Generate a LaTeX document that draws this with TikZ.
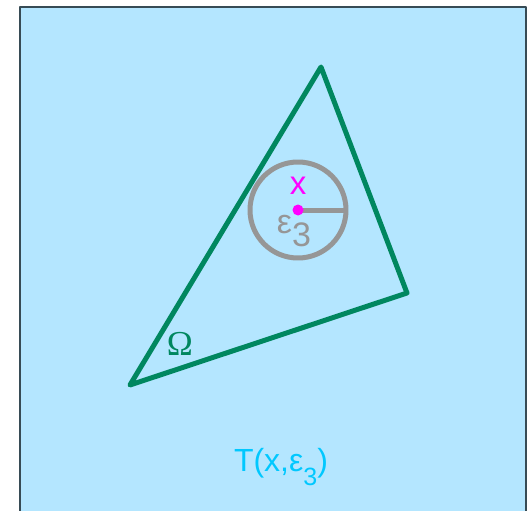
\documentclass[tikz,border=0pt]{standalone}
\usepackage{fontspec}
\setmainfont{Liberation Sans}
\newfontfamily\omegafont{Liberation Serif}
\definecolor{skyfill}{RGB}{180,230,255}
\definecolor{frameline}{RGB}{55,75,85}
\definecolor{domgreen}{RGB}{0,135,95}
\definecolor{ballgray}{RGB}{150,150,150}
\definecolor{centremag}{RGB}{255,0,255}
\definecolor{tubecyan}{RGB}{0,200,255}
\begin{document}
\begin{tikzpicture}[x=1pt, y=-1pt, line join=round]
    \useasboundingbox (0,0) rectangle (531,511);
    % background T(x,eps)
    \fill[skyfill] (19.5,7.5) rectangle (526,520);
    \draw[frameline, line width=2] (19.5,520) -- (19.5,7.5) -- (526,7.5) -- (526,520);

    % domain Omega
    \coordinate (top) at (321,67);
    \coordinate (right) at (407,293);
    \coordinate (left) at (130,385);
    \draw[domgreen, line width=5] (top) -- (right) -- (left) -- cycle;
    \node[domgreen, font=\omegafont\fontsize{35}{35}\selectfont] (omega) at (180,344) {Ω};

    % ball around x
    \coordinate (x) at (298,210);
    \draw[ballgray, line width=5] (x) circle (48);
    \coordinate (rim) at (346,210);
    \draw[ballgray, line width=5] (x) -- (rim);
    \fill[centremag] (x) circle (5.5);
    \node[centremag, font=\fontsize{33}{33}\selectfont] (xlabel) at (298,186) {x};
    \node[ballgray, font=\fontsize{34}{34}\selectfont] (eps) at (294,231) {ε\raisebox{-0.38em}{3}};

    % label of the tube
    \node[tubecyan, font=\fontsize{32}{32}\selectfont] (tube) at (281,467) {T(x,ε\raisebox{-0.42em}{\fontsize{25}{25}\selectfont 3})};
\end{tikzpicture}
\end{document}
